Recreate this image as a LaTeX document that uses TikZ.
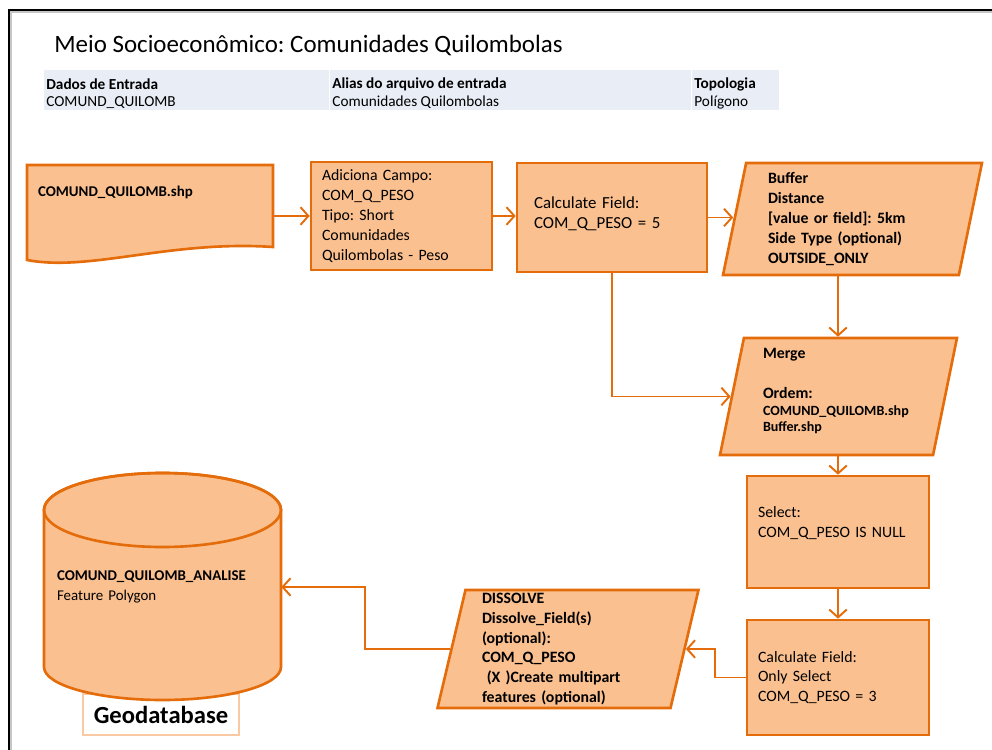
\documentclass[tikz,border=0pt]{standalone}
\usepackage{fontspec}
\setmainfont{Carlito}
\usetikzlibrary{shapes.geometric,arrows.meta}
\frenchspacing

\definecolor{boxfill}{HTML}{FAC090}
\definecolor{boxline}{HTML}{E46C0A}
\definecolor{tablefill}{HTML}{E9EDF5}
\definecolor{geoline}{HTML}{F9C9A4}

\tikzset{
    box/.style={draw=boxline, fill=boxfill, line width=1.5pt},
    stepbox/.style={box, rectangle, inner sep=0pt, align=left,
        font={\fontsize{9}{11.3}\selectfont}},
    databox/.style={box, trapezium, trapezium left angle=76,
        trapezium right angle=104, trapezium stretches body, inner sep=0pt,
        align=left, font={\fontsize{9}{11.3}\selectfont\bfseries}},
    plain/.style={inner sep=0pt, anchor=west},
    flow/.style={draw=boxline, line width=1.1pt,
        -{Straight Barb[length=4.5pt,width=10pt]}}
}

\begin{document}
\begin{tikzpicture}[x=0.02cm, y=0.02cm]
    \useasboundingbox (0,0) rectangle (992,-750);

    % page frame
    \draw[gray!45, line width=1pt] (11,-750) -- (11,-12) -- (992,-12);
    \draw[line width=1.1pt] (9,-750) -- (9,-10) -- (992,-10);

    \node[plain, font={\fontsize{14.2}{16}\selectfont}] (title) at (54,-45)
        {Meio Socioeconômico: Comunidades Quilombolas};

    % input table
    \foreach \x/\w/\head/\val in {44/285/Dados de Entrada/COMUND\_QUILOMB,
        330/361/Alias do arquivo de entrada/Comunidades Quilombolas,
        692/87/Topologia/Polígono} {
        \fill[tablefill] (\x,-70) rectangle (\x+\w,-110);
        \node[plain, font={\fontsize{8.7}{10}\selectfont\bfseries}] (head\x)
            at (\x+2,-84) {\head};
        \node[plain, font={\fontsize{8.7}{10}\selectfont}] (val\x)
            at (\x+2,-102.5) {\val};
    }

    % input shapefile
    \draw[box] (27,-165) -- (273,-165) -- (273,-247)
        .. controls (170,-240) and (90,-272) .. (27,-260) -- cycle;
    \node[inner sep=0pt, minimum width=4.92cm, text width=4.48cm, align=left,
        font={\fontsize{8.5}{11}\selectfont\bfseries}] (shp) at (150,-192)
        {COMUND\_QUILOMB.shp};

    \node[stepbox, minimum width=3.62cm, minimum height=2.16cm,
        text width=3.18cm] (add) at (401.5,-216)
        {Adiciona Campo:\\COM\_Q\_PESO\\Tipo: Short\\Comunidades\\Quilombolas - Peso};
    \node[stepbox, minimum width=3.8cm, minimum height=2.18cm,
        text width=3.12cm, font={\fontsize{9.6}{11.3}\selectfont}] (calc1)
        at (612,-217.5) {Calculate Field:\\COM\_Q\_PESO = 5\\[-6pt]\mbox{}};
    \node[databox, minimum width=5.18cm, minimum height=2.24cm,
        text width=3.38cm] (buffer) at (852.5,-219)
        {Buffer\\Distance\\{[value or field]: 5km}\\Side Type (optional)\\OUTSIDE\_ONLY};
    \node[databox, minimum width=4.74cm, minimum height=2.34cm,
        text width=3.02cm] (merge) at (838.5,-396.5)
        {Merge\\[11pt]Ordem:\\[-1.5pt]{\fontsize{8}{10}\selectfont COMUND\_QUILOMB.shp}\\[-2pt]{\fontsize{8}{10}\selectfont Buffer.shp}\\[-4pt]\mbox{}};
    \node[stepbox, minimum width=3.64cm, minimum height=2.24cm,
        text width=3.2cm] (select) at (838,-532)
        {Select:\\COM\_Q\_PESO IS NULL\\\mbox{}};
    \node[stepbox, minimum width=3.64cm, minimum height=2.3cm,
        text width=3.2cm] (calc2) at (838,-677.5)
        {Calculate Field:\\Only Select\\COM\_Q\_PESO = 3};
    \node[databox, minimum width=5.22cm, minimum height=2.36cm,
        text width=3.44cm] (dissolve) at (568,-649)
        {DISSOLVE\\Dissolve\_Field(s)\\(optional):\\COM\_Q\_PESO\\\hspace*{0.3em}(X )Create multipart\\features (optional)};

    % output geodatabase
    \node[draw=geoline, line width=0.9pt, fill=white, minimum width=3.12cm,
        minimum height=0.82cm, font={\fontsize{14}{16}\selectfont\bfseries}]
        (geo) at (161,-714.5) {Geodatabase};
    \draw[box] (44,-510) -- (44,-667)
        arc[start angle=180, end angle=360, x radius=118.5, y radius=33]
        -- (281,-510)
        arc[start angle=0, end angle=180, x radius=118.5, y radius=37] -- cycle;
    \draw[draw=boxline, line width=1.5pt] (162.5,-510)
        ellipse[x radius=118.5, y radius=37];
    \node[inner sep=0pt, minimum width=4.74cm, text width=4.22cm, align=left,
        font={\fontsize{8.5}{11.3}\selectfont}] (db) at (162.5,-587)
        {\textbf{COMUND\_QUILOMB\_ANALISE}\\Feature Polygon};

    % connectors
    \draw[flow] (add.west -| shp.east) -- (add.west);
    \draw[flow] (add.east) -- (add.east -| calc1.west);
    \draw[flow] (calc1.east) -- (calc1.east -| buffer.west);
    \draw[flow] (select.north |- buffer.south) -- (select.north |- merge.north);
    \draw[flow] (calc1.south) |- (merge.west);
    \draw[flow] (select.north |- merge.south) -- (select.north);
    \draw[flow] (select.south) -- (calc2.north);
    \draw[flow] (calc2.west) -- ++(-31,0) |- (dissolve.east);
    \draw[flow] (dissolve.west) -- ++(-85,0) |- (db.east);
\end{tikzpicture}
\end{document}
